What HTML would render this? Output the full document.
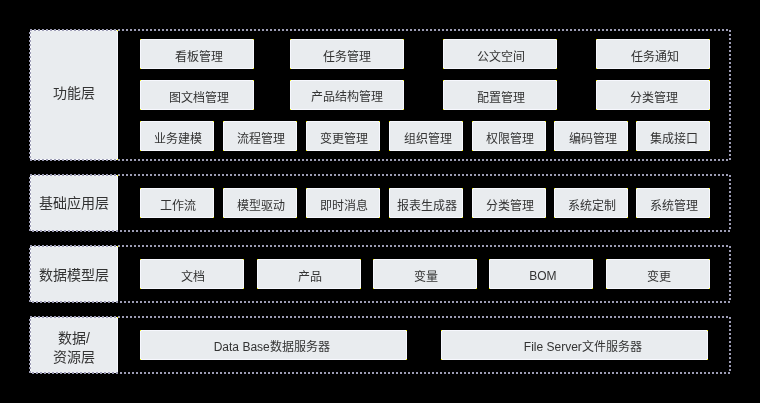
<!DOCTYPE html>
<html lang="zh-CN"><head><meta charset="utf-8"><style>
html,body{margin:0;padding:0;background:#000;width:760px;height:403px;overflow:hidden}
body{position:relative;font-family:"Liberation Sans",sans-serif;color:#333333}
.b{position:absolute;text-align:center;font-size:12px;white-space:nowrap;
background:
linear-gradient(#f2f200,#f2f200) left top/1px 1px no-repeat,
linear-gradient(#f2f200,#f2f200) right top/1px 1px no-repeat,
linear-gradient(#f2f200,#f2f200) left bottom/1px 1px no-repeat,
linear-gradient(#f2f200,#f2f200) right bottom/1px 1px no-repeat,
linear-gradient(#f7f8fe,#f7f8fe) left top/100% 1px no-repeat,
linear-gradient(#f7f8fe,#f7f8fe) left bottom/100% 1px no-repeat,
linear-gradient(#f7f8fe,#f7f8fe) left top/1px 100% no-repeat,
linear-gradient(#f7f8fe,#f7f8fe) right top/1px 100% no-repeat,
#e9ecef}
.l{display:flex;align-items:center;justify-content:center;font-size:14px;line-height:18.6px}
svg{position:absolute;left:0;top:0}
svg rect{fill:none;stroke:#9c9cb4;stroke-width:2;stroke-dasharray:2 2}
span{display:inline-block;will-change:transform}
</style></head><body>
<div class="l b" style="left:30px;width:88px;top:30px;height:130px"><span style="transform:translateY(-2px)">功能层</span></div><div class="l b" style="left:30px;width:88px;top:175px;height:56px"><span style="transform:translateY(0px)">基础应用层</span></div><div class="l b" style="left:30px;width:88px;top:246px;height:56px"><span style="transform:translateY(0.5px)">数据模型层</span></div><div class="l b" style="left:30px;width:88px;top:317px;height:56px"><span style="transform:translateY(2.7px)">数据/<br>资源层</span></div>
<svg width="760" height="403"><rect x="30" y="30" width="700" height="130"/><rect x="30" y="175" width="700" height="56"/><rect x="30" y="246" width="700" height="56"/><rect x="30" y="317" width="700" height="56"/></svg>
<div class="b" style="left:140px;top:39px;width:114px;height:30px;line-height:30px"><span style="transform:translate(1.6px,2.5px)">看板管理</span></div><div class="b" style="left:290px;top:39px;width:114px;height:30px;line-height:30px"><span style="transform:translate(0.15000000000000013px,2.5px)">任务管理</span></div><div class="b" style="left:443px;top:39px;width:114px;height:30px;line-height:30px"><span style="transform:translate(1.05px,2.5px)">公文空间</span></div><div class="b" style="left:596px;top:39px;width:114px;height:30px;line-height:30px"><span style="transform:translate(1.65px,2.5px)">任务通知</span></div><div class="b" style="left:140px;top:80px;width:114px;height:30px;line-height:30px"><span style="transform:translate(1.6px,2.5px)">图文档管理</span></div><div class="b" style="left:290px;top:80px;width:114px;height:30px;line-height:30px"><span style="transform:translate(0.19999999999999996px,2.25px)">产品结构管理</span></div><div class="b" style="left:443px;top:80px;width:114px;height:30px;line-height:30px"><span style="transform:translate(1.3px,2.5px)">配置管理</span></div><div class="b" style="left:596px;top:80px;width:114px;height:30px;line-height:30px"><span style="transform:translate(1.3px,2.5px)">分类管理</span></div><div class="b" style="left:140px;top:121px;width:74px;height:30px;line-height:30px"><span style="transform:translate(1.3px,2.5px)">业务建模</span></div><div class="b" style="left:223px;top:121px;width:74px;height:30px;line-height:30px"><span style="transform:translate(1.3px,2.5px)">流程管理</span></div><div class="b" style="left:306px;top:121px;width:74px;height:30px;line-height:30px"><span style="transform:translate(1.3px,2.5px)">变更管理</span></div><div class="b" style="left:389px;top:121px;width:74px;height:30px;line-height:30px"><span style="transform:translate(2.1px,2.5px)">组织管理</span></div><div class="b" style="left:472px;top:121px;width:74px;height:30px;line-height:30px"><span style="transform:translate(1.3px,2.5px)">权限管理</span></div><div class="b" style="left:554px;top:121px;width:74px;height:30px;line-height:30px"><span style="transform:translate(2.1px,2.5px)">编码管理</span></div><div class="b" style="left:636px;top:121px;width:74px;height:30px;line-height:30px"><span style="transform:translate(1.3px,2.5px)">集成接口</span></div><div class="b" style="left:140px;top:188px;width:74px;height:30px;line-height:30px"><span style="transform:translate(1.3px,2.5px)">工作流</span></div><div class="b" style="left:223px;top:188px;width:74px;height:30px;line-height:30px"><span style="transform:translate(1.3px,2.5px)">模型驱动</span></div><div class="b" style="left:306px;top:188px;width:74px;height:30px;line-height:30px"><span style="transform:translate(1.3px,2.5px)">即时消息</span></div><div class="b" style="left:389px;top:188px;width:74px;height:30px;line-height:30px"><span style="transform:translate(1.3px,2.5px)">报表生成器</span></div><div class="b" style="left:472px;top:188px;width:74px;height:30px;line-height:30px"><span style="transform:translate(1.3px,2.5px)">分类管理</span></div><div class="b" style="left:554px;top:188px;width:74px;height:30px;line-height:30px"><span style="transform:translate(1.3px,2.5px)">系统定制</span></div><div class="b" style="left:636px;top:188px;width:74px;height:30px;line-height:30px"><span style="transform:translate(1.3px,2.5px)">系统管理</span></div><div class="b" style="left:140px;top:259px;width:104px;height:30px;line-height:30px"><span style="transform:translate(1.3px,2.5px)">文档</span></div><div class="b" style="left:257px;top:259px;width:104px;height:30px;line-height:30px"><span style="transform:translate(1.3px,2.5px)">产品</span></div><div class="b" style="left:373px;top:259px;width:104px;height:30px;line-height:30px"><span style="transform:translate(1.3px,2.5px)">变量</span></div><div class="b" style="left:489px;top:259px;width:104px;height:30px;line-height:30px"><span style="transform:translate(2.2px,1.6px)">BOM</span></div><div class="b" style="left:606px;top:259px;width:104px;height:30px;line-height:30px"><span style="transform:translate(1.3px,2.5px)">变更</span></div><div class="b" style="left:140px;top:330px;width:267px;height:30px;line-height:30px"><span style="transform:translate(-1.3px,1.7px)">Data Base数据服务器</span></div><div class="b" style="left:441px;top:330px;width:267px;height:30px;line-height:30px"><span style="transform:translate(8.8px,2.0px)">File Server文件服务器</span></div>
</body></html>
